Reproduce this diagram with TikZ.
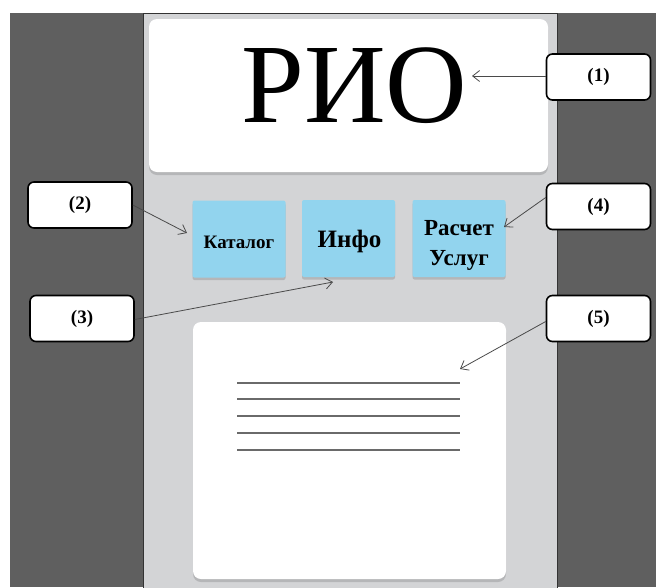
\documentclass[tikz,border=0pt]{standalone}
\usepackage{fontspec}
\setmainfont{Liberation Serif}
\usetikzlibrary{arrows.meta,shadows}
\definecolor{darkbg}{HTML}{5F5F5F}
\definecolor{panelgrey}{HTML}{D3D4D6}
\definecolor{tileblue}{HTML}{92D4EE}
\definecolor{shadowgrey}{HTML}{A9AAAC}
\definecolor{arrowgrey}{HTML}{4A4A4A}
\definecolor{rulegrey}{HTML}{6A6A6A}
\begin{document}
\begin{tikzpicture}[x=1pt,y=-1pt,
  callout/.style={draw=black, line width=1.6pt, fill=white, rounded corners=6pt,
    minimum width=104pt, minimum height=46pt, inner sep=0pt,
    font=\fontsize{19}{19}\selectfont\bfseries},
  tilebox/.style={fill=tileblue, rounded corners=2pt, minimum width=93pt,
    minimum height=77pt, inner sep=0pt,
    drop shadow={shadow xshift=0pt, shadow yshift=-2.5pt, fill=shadowgrey, opacity=0.7}},
  tiletext/.style={anchor=base, inner sep=0pt, font=\fontsize{#1}{#1}\selectfont\bfseries},
  card/.style={fill=white, rounded corners=8pt, inner sep=0pt,
    drop shadow={shadow xshift=0pt, shadow yshift=-3pt, fill=shadowgrey, opacity=0.7}},
  pointer/.style={draw=arrowgrey, line width=0.8pt, -{Straight Barb[length=7pt,width=11pt]}},
  textrule/.style={draw=rulegrey, line width=1.2pt}
]
\useasboundingbox (0,0) rectangle (656,587);
% background
\fill[darkbg] (10,13) rectangle (656,587);
\draw[fill=panelgrey, draw=black!80, line width=0.8pt] (143,13) rectangle (557,590);
% header card
\node[card, minimum width=399pt, minimum height=153pt] (header) at (348.5,95.5) {};
\node[anchor=base, inner sep=0pt, font=\fontsize{113}{113}\selectfont] (rio) at (354.5,122) {РИО};
% tiles
\node[tilebox] (catalog) at (239,239) {};
\node[tilebox] (info) at (348.5,238.5) {};
\node[tilebox] (calc) at (459,238.5) {};
\node[tiletext=19] (catalogtxt) at (239,248) {Каталог};
\node[tiletext=25] (infotxt) at (349.5,247) {Инфо};
\node[tiletext=23] (calctxt1) at (459,235) {Расчет};
\node[tiletext=23] (calctxt2) at (459,265) {Услуг};
% content card
\node[card, minimum width=313pt, minimum height=257pt] (content) at (349.5,450.5) {};
\coordinate (l1a) at (237,383); \coordinate (l1b) at (460,383);
\coordinate (l2a) at (237,399); \coordinate (l2b) at (460,399);
\coordinate (l3a) at (237,416); \coordinate (l3b) at (460,416);
\coordinate (l4a) at (237,433); \coordinate (l4b) at (460,433);
\coordinate (l5a) at (237,450); \coordinate (l5b) at (460,450);
\draw[textrule] (l1a) -- (l1b);
\draw[textrule] (l2a) -- (l2b);
\draw[textrule] (l3a) -- (l3b);
\draw[textrule] (l4a) -- (l4b);
\draw[textrule] (l5a) -- (l5b);
% callouts
\node[callout] (c1) at (598.5,77) {(1)};
\node[callout] (c2) at (80,205) {(2)};
\node[callout] (c3) at (82,318.5) {(3)};
\node[callout] (c4) at (598.5,206.5) {(4)};
\node[callout] (c5) at (598.5,318.5) {(5)};
% pointer tips
\coordinate (t1) at (472,76);
\coordinate (t2) at (187,233);
\coordinate (t3) at (333,282);
\coordinate (t4) at (504,227);
\coordinate (t5) at (460,369);
\draw[pointer] ([yshift=1pt]c1.west) -- (t1);
\draw[pointer] (c2.east) -- (t2);
\draw[pointer] ([yshift=-1pt]c3.east) -- (t3);
\draw[pointer] ([yshift=9pt]c4.west) -- (t4);
\draw[pointer] ([yshift=-3pt]c5.west) -- (t5);
\end{tikzpicture}
\end{document}
